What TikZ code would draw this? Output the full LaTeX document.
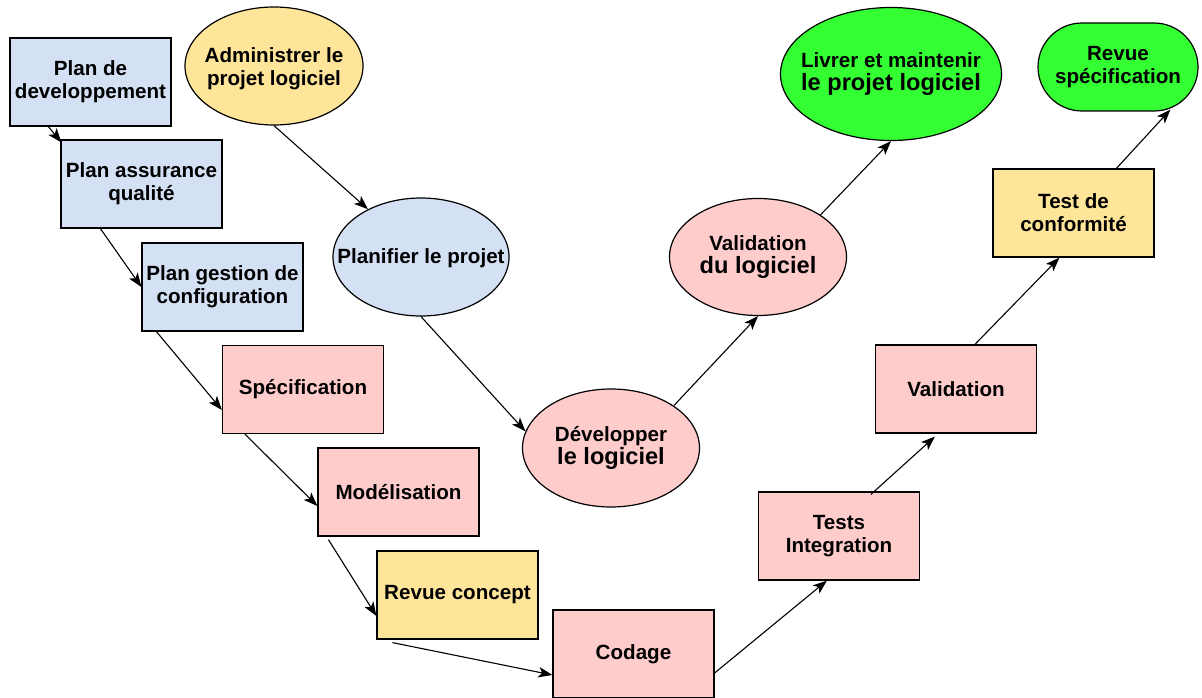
\documentclass[tikz,border=0pt]{standalone}
\usepackage{fontspec}
\setmainfont{Liberation Sans}
\usetikzlibrary{shapes.geometric,arrows.meta}

\definecolor{fillblue}{HTML}{D4E1F5}
\definecolor{fillpink}{HTML}{FFCCCC}
\definecolor{fillyellow}{HTML}{FFE599}
\definecolor{fillgreen}{HTML}{33FF33}

\newcommand{\largeline}{\fontsize{23.6}{26}\selectfont}

\tikzset{
  txt/.style={font=\bfseries\fontsize{20.6}{23}\selectfont, align=center, inner sep=0pt},
  stepbox/.style={txt, draw=black, line width=1.2pt, rectangle,
    minimum width=161pt, minimum height=88pt},
  bluebox/.style={stepbox, fill=fillblue},
  pinkbox/.style={stepbox, fill=fillpink},
  yellowbox/.style={stepbox, fill=fillyellow},
  oval/.style={draw=black, line width=1.2pt, ellipse, inner sep=0pt},
  ovaltext/.style={txt},
  arr/.style={line width=1.1pt, -{Stealth[length=14pt, width=10.5pt, inset=3.5pt]}},
}

\begin{document}
\begin{tikzpicture}[x=1pt, y=-1pt]
\useasboundingbox (0,0) rectangle (1202,698);

% descending branch: plans and design
\node[bluebox]   (pdev)   at (90.5,82)   {Plan de\\developpement};
\node[bluebox]   (paq)    at (141.5,184) {Plan assurance\\qualité};
\node[bluebox]   (pgc)    at (222.5,287) {Plan gestion de\\configuration};
\node[pinkbox]   (spec)   at (303,389.5) {Spécification};
\node[pinkbox]   (model)  at (398.5,492) {Modélisation};
\node[yellowbox] (revue)  at (457.5,595) {Revue concept};
\node[pinkbox]   (codage) at (633.5,654) {Codage};

% ascending branch: tests and reviews
\node[pinkbox]   (tint)   at (839,536)    {Tests\\Integration};
\node[pinkbox]   (valid)  at (956,389)    {Validation};
\node[yellowbox] (tconf)  at (1073.5,213) {Test de\\conformité};
\node[stepbox, fill=fillgreen, rounded corners=44pt, minimum width=160pt]
                 (rspec)  at (1118,67)    {Revue\\spécification};

% project-level phases
\node[oval, fill=fillyellow, minimum width=178pt, minimum height=118pt,
      label={[ovaltext, yshift=-3pt]center:Administrer le\\projet logiciel}] (admin) at (274,66) {};
\node[oval, fill=fillblue, minimum width=176pt, minimum height=118pt,
      label={[ovaltext, yshift=-1pt]center:Planifier le projet}] (plan) at (421,257) {};
\node[oval, fill=fillpink, minimum width=177pt, minimum height=118pt,
      label={[ovaltext]center:Développer\\{\largeline le logiciel}}] (dev) at (611,448) {};
\node[oval, fill=fillpink, minimum width=177pt, minimum height=117pt,
      label={[ovaltext]center:Validation\\{\largeline du logiciel}}] (vlog) at (758,257) {};
\node[oval, fill=fillgreen, minimum width=221pt, minimum height=133pt,
      label={[ovaltext]center:Livrer et maintenir\\{\largeline le projet logiciel}}] (livrer) at (891,74) {};

% connectors along the V
\draw[arr] ([xshift=39pt]pdev.south west) -- ([xshift=1pt,yshift=-3pt]paq.north west);
\draw[arr] ([xshift=40pt]paq.south west) -- (pgc.west);
\draw[arr] ([xshift=15pt]pgc.south west) -- ([yshift=-20.5pt]spec.west);
\draw[arr] ([xshift=23pt]spec.south west) -- ([yshift=-14pt]model.west);
\draw[arr] ([xshift=11pt,yshift=-3pt]model.south west) -- ([yshift=-21pt]revue.west);
\draw[arr] ([xshift=16pt,yshift=-3pt]revue.south west) -- ([yshift=-21pt]codage.west);
\draw[arr] ([yshift=-19pt]codage.east) -- ([xshift=69pt]tint.south west);
\draw[arr] ([xshift=113pt,yshift=-3pt]tint.north west) -- ([xshift=60pt,yshift=-3pt]valid.south west);
\draw[arr] ([xshift=100pt]valid.north west) -- ([xshift=67pt]tconf.south west);
\draw[arr] ([xshift=124pt]tconf.north west) -- ([xshift=133pt,yshift=2pt]rspec.south west);

% connectors between the phases
\draw[arr] (admin.south) -- (plan.138);
\draw[arr] (plan.south) -- (dev.169);
\draw[arr] (dev.34) -- (vlog.south);
\draw[arr] (vlog.34) -- (livrer.south);
\end{tikzpicture}
\end{document}
